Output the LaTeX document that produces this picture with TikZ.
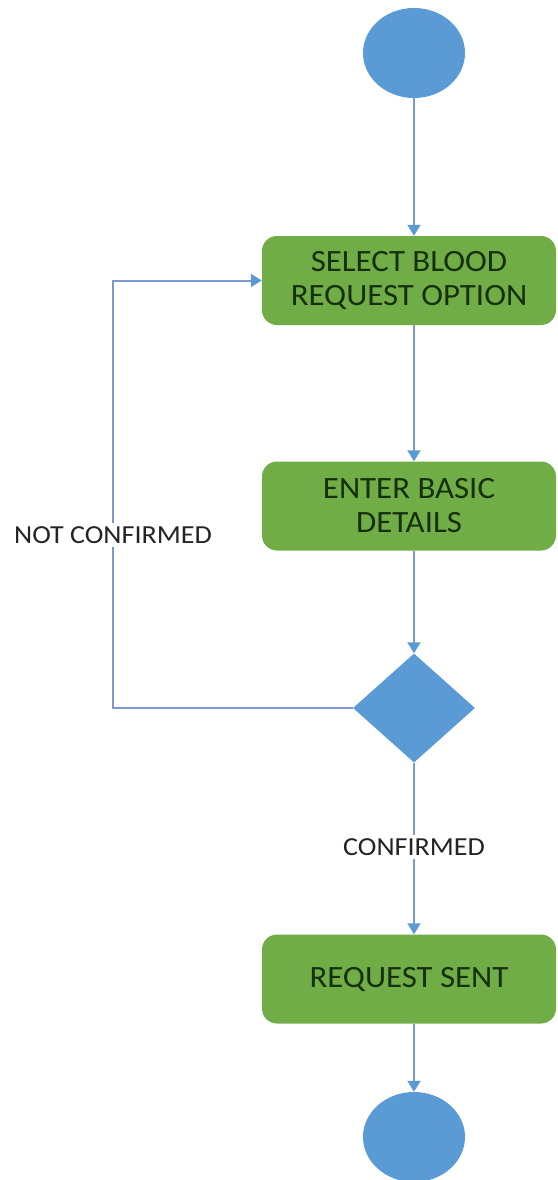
\documentclass[tikz,border=0pt]{standalone}
\usepackage{fontspec}
\setmainfont{Carlito}
\newfontfamily\boxfont[FakeStretch=1.06]{Carlito}
\newfontfamily\labfont[FakeStretch=1.08]{Carlito}
\usetikzlibrary{shapes.geometric,arrows.meta}
\definecolor{actgreen}{RGB}{112,173,71}
\definecolor{nodeblue}{RGB}{91,155,213}
\definecolor{linkblue}{RGB}{124,154,204}
\definecolor{boxtext}{RGB}{22,48,12}
\definecolor{labtext}{RGB}{35,35,40}
\tikzset{
  terminal/.style={ellipse, fill=nodeblue, minimum width=102pt, minimum height=90pt, inner sep=0pt},
  activity/.style={rounded corners=15pt, fill=actgreen, minimum width=294pt, minimum height=89pt,
    align=center, text=boxtext, font=\boxfont\fontsize{31}{34}\selectfont, inner sep=0pt},
  decision/.style={diamond, fill=nodeblue, minimum width=122pt, minimum height=109pt, aspect=1.12, inner sep=0pt},
  link/.style={draw=linkblue, line width=2pt, -{Triangle[length=11pt,width=13pt,color=nodeblue]}},
  guard/.style={fill=white, text=labtext, font=\labfont\fontsize{26}{28}\selectfont, inner sep=3pt}
}
\begin{document}
\begin{tikzpicture}[x=1pt,y=-1pt]
\useasboundingbox (0,0) rectangle (557,1180);
\clip (0,0) rectangle (557,1180);
\fill[white] (0,0) rectangle (557,1180);

% nodes
\node[terminal] (start) at (414,53) {};
\node[activity] (b1) at (409,280.5) {SELECT BLOOD\\REQUEST OPTION};
\node[activity] (b2) at (409,506) {ENTER BASIC\\DETAILS};
\node[decision] (dec) at (414,708) {};
\node[activity] (b3) at (409,979) {REQUEST SENT};
\node[terminal] (stop) at (414,1137) {};
\coordinate (lx) at (113,0);

% connectors
\draw[link] (start.south) -- (start.south |- b1.north);
\draw[link] (start.south |- b1.south) -- (start.south |- b2.north);
\draw[link] (start.south |- b2.south) -- (dec.north);
\draw[link] (dec.west) -- (dec.west -| lx) |- (b1.west);
\draw[link] (dec.south) -- (dec.south |- b3.north);
\draw[link] (dec.south |- b3.south) -- (stop.north);

% guard labels
\node[guard] (notok) at (113,535) {NOT CONFIRMED};
\node[guard] (ok) at (414,847) {CONFIRMED};
\end{tikzpicture}
\end{document}
